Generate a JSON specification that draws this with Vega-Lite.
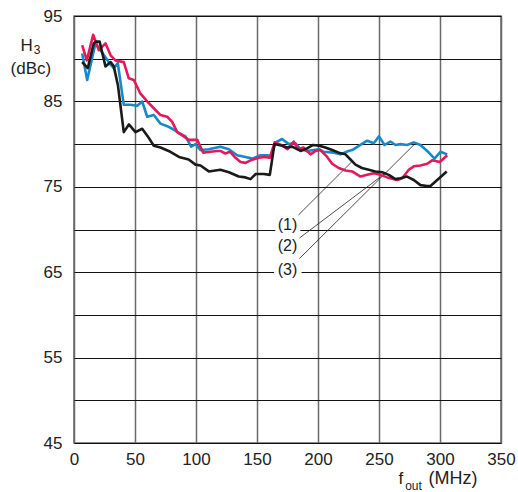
{
  "$schema": "https://vega.github.io/schema/vega-lite/v6.json",
  "autosize": {"type": "none"},
  "width": 427,
  "height": 427,
  "padding": {"left": 74, "top": 16, "right": 17, "bottom": 49},
  "background": "white",
  "config": {
    "font": "Liberation Sans",
    "view": {"stroke": "#666", "strokeWidth": 1.5},
    "axis": {"labelFont": "Liberation Sans", "titleFont": "Liberation Sans", "labelColor": "#222", "titleColor": "#222", "ticks": false, "domain": false, "titleFontWeight": "normal", "labelFlush": false, "labelOverlap": false}
  },
  "datasets": {
    "curves": [
      {"s": "1", "f": 6.7, "h": 89.6}, {"s": "1", "f": 11.3, "h": 88.9}, {"s": "1", "f": 16.2, "h": 91.8}, {"s": "1", "f": 18, "h": 92.0}, {"s": "1", "f": 21, "h": 92.0}, {"s": "1", "f": 25.8, "h": 89.1}, {"s": "1", "f": 30, "h": 89.6}, {"s": "1", "f": 32.6, "h": 89.1}, {"s": "1", "f": 36, "h": 86.9}, {"s": "1", "f": 40.8, "h": 81.4}, {"s": "1", "f": 45, "h": 82.3}, {"s": "1", "f": 50.4, "h": 81.4}, {"s": "1", "f": 55.9, "h": 81.8}, {"s": "1", "f": 60.5, "h": 80.9}, {"s": "1", "f": 65.4, "h": 79.8}, {"s": "1", "f": 70.9, "h": 79.6}, {"s": "1", "f": 79, "h": 79.1}, {"s": "1", "f": 86, "h": 78.5}, {"s": "1", "f": 94, "h": 78.2}, {"s": "1", "f": 99.6, "h": 77.6}, {"s": "1", "f": 103.7, "h": 77.5}, {"s": "1", "f": 110.5, "h": 76.8}, {"s": "1", "f": 120, "h": 77.0}, {"s": "1", "f": 127, "h": 76.7}, {"s": "1", "f": 135, "h": 76.2}, {"s": "1", "f": 140.6, "h": 76.1}, {"s": "1", "f": 144.7, "h": 75.9}, {"s": "1", "f": 149, "h": 76.5}, {"s": "1", "f": 155.6, "h": 76.5}, {"s": "1", "f": 160.5, "h": 76.4}, {"s": "1", "f": 164.3, "h": 80.0}, {"s": "1", "f": 170.6, "h": 79.8}, {"s": "1", "f": 174.7, "h": 79.6}, {"s": "1", "f": 178.8, "h": 79.7}, {"s": "1", "f": 185.7, "h": 79.2}, {"s": "1", "f": 191, "h": 79.5}, {"s": "1", "f": 196, "h": 79.9}, {"s": "1", "f": 201, "h": 79.8}, {"s": "1", "f": 206, "h": 79.6}, {"s": "1", "f": 211.6, "h": 79.3}, {"s": "1", "f": 217, "h": 79.0}, {"s": "1", "f": 222.5, "h": 78.8}, {"s": "1", "f": 226.6, "h": 78.2}, {"s": "1", "f": 230.7, "h": 77.6}, {"s": "1", "f": 236, "h": 77.2}, {"s": "1", "f": 241.6, "h": 77.0}, {"s": "1", "f": 247, "h": 76.8}, {"s": "1", "f": 252.6, "h": 76.7}, {"s": "1", "f": 258, "h": 76.4}, {"s": "1", "f": 263.5, "h": 75.9}, {"s": "1", "f": 267.6, "h": 76.0}, {"s": "1", "f": 273, "h": 76.2}, {"s": "1", "f": 278.5, "h": 75.8}, {"s": "1", "f": 284, "h": 75.2}, {"s": "1", "f": 289.5, "h": 75.1}, {"s": "1", "f": 292.2, "h": 75.1}, {"s": "1", "f": 297.7, "h": 75.8}, {"s": "1", "f": 305.5, "h": 76.8},

      {"s": "2", "f": 6.7, "h": 91.6}, {"s": "2", "f": 10.5, "h": 89.8}, {"s": "2", "f": 15.7, "h": 92.8}, {"s": "2", "f": 20.3, "h": 91.0}, {"s": "2", "f": 25.8, "h": 91.8}, {"s": "2", "f": 30, "h": 90.4}, {"s": "2", "f": 34, "h": 89.8}, {"s": "2", "f": 40.8, "h": 89.6}, {"s": "2", "f": 44.9, "h": 87.7}, {"s": "2", "f": 49, "h": 87.5}, {"s": "2", "f": 54.5, "h": 85.9}, {"s": "2", "f": 60, "h": 85.0}, {"s": "2", "f": 65.4, "h": 84.2}, {"s": "2", "f": 70.9, "h": 83.4}, {"s": "2", "f": 76.4, "h": 83.2}, {"s": "2", "f": 80.5, "h": 82.6}, {"s": "2", "f": 84.6, "h": 81.4}, {"s": "2", "f": 90, "h": 80.9}, {"s": "2", "f": 94, "h": 80.5}, {"s": "2", "f": 101, "h": 80.5}, {"s": "2", "f": 105.9, "h": 79.0}, {"s": "2", "f": 111.9, "h": 79.1}, {"s": "2", "f": 117.4, "h": 79.2}, {"s": "2", "f": 120, "h": 79.2}, {"s": "2", "f": 124, "h": 78.9}, {"s": "2", "f": 128, "h": 79.1}, {"s": "2", "f": 132.4, "h": 78.4}, {"s": "2", "f": 136.5, "h": 77.9}, {"s": "2", "f": 140.6, "h": 77.8}, {"s": "2", "f": 144.7, "h": 78.1}, {"s": "2", "f": 151.5, "h": 78.4}, {"s": "2", "f": 155.6, "h": 78.5}, {"s": "2", "f": 160.5, "h": 78.4}, {"s": "2", "f": 164.5, "h": 80.2}, {"s": "2", "f": 170, "h": 79.9}, {"s": "2", "f": 175, "h": 79.4}, {"s": "2", "f": 180, "h": 80.3}, {"s": "2", "f": 184, "h": 79.4}, {"s": "2", "f": 188, "h": 79.6}, {"s": "2", "f": 193.9, "h": 78.8}, {"s": "2", "f": 198, "h": 79.2}, {"s": "2", "f": 202, "h": 79.3}, {"s": "2", "f": 207.5, "h": 78.5}, {"s": "2", "f": 211.6, "h": 77.7}, {"s": "2", "f": 217, "h": 77.2}, {"s": "2", "f": 222.5, "h": 76.9}, {"s": "2", "f": 228, "h": 76.8}, {"s": "2", "f": 234.8, "h": 76.2}, {"s": "2", "f": 240.3, "h": 76.4}, {"s": "2", "f": 245.7, "h": 76.6}, {"s": "2", "f": 251.2, "h": 76.4}, {"s": "2", "f": 256.7, "h": 76.1}, {"s": "2", "f": 265, "h": 75.8}, {"s": "2", "f": 269, "h": 76.0}, {"s": "2", "f": 274.4, "h": 77.0}, {"s": "2", "f": 278.5, "h": 77.4}, {"s": "2", "f": 284, "h": 77.5}, {"s": "2", "f": 289.5, "h": 77.7}, {"s": "2", "f": 293.6, "h": 78.1}, {"s": "2", "f": 299.9, "h": 77.9}, {"s": "2", "f": 305.9, "h": 78.7},

      {"s": "3", "f": 6.7, "h": 90.6}, {"s": "3", "f": 10.8, "h": 87.5}, {"s": "3", "f": 17.6, "h": 91.8}, {"s": "3", "f": 21.7, "h": 91.0}, {"s": "3", "f": 26.6, "h": 90.0}, {"s": "3", "f": 30, "h": 89.3}, {"s": "3", "f": 32.6, "h": 88.9}, {"s": "3", "f": 35.9, "h": 89.5}, {"s": "3", "f": 40.8, "h": 84.6}, {"s": "3", "f": 46.3, "h": 84.6}, {"s": "3", "f": 51.8, "h": 84.5}, {"s": "3", "f": 55.9, "h": 85.0}, {"s": "3", "f": 60, "h": 83.2}, {"s": "3", "f": 65.4, "h": 83.4}, {"s": "3", "f": 70.9, "h": 82.4}, {"s": "3", "f": 76.4, "h": 82.1}, {"s": "3", "f": 80.5, "h": 81.8}, {"s": "3", "f": 85.9, "h": 81.3}, {"s": "3", "f": 91.4, "h": 80.9}, {"s": "3", "f": 96, "h": 79.7}, {"s": "3", "f": 99.6, "h": 80.0}, {"s": "3", "f": 103.7, "h": 79.3}, {"s": "3", "f": 110.5, "h": 79.4}, {"s": "3", "f": 120, "h": 79.7}, {"s": "3", "f": 126.9, "h": 79.4}, {"s": "3", "f": 133.8, "h": 78.7}, {"s": "3", "f": 140.6, "h": 78.5}, {"s": "3", "f": 146, "h": 78.3}, {"s": "3", "f": 152.9, "h": 78.7}, {"s": "3", "f": 158.3, "h": 78.7}, {"s": "3", "f": 161.6, "h": 78.6}, {"s": "3", "f": 165.2, "h": 80.2}, {"s": "3", "f": 170.6, "h": 80.6}, {"s": "3", "f": 176, "h": 80.0}, {"s": "3", "f": 181.6, "h": 80.1}, {"s": "3", "f": 185.7, "h": 79.4}, {"s": "3", "f": 191, "h": 79.2}, {"s": "3", "f": 200.7, "h": 79.4}, {"s": "3", "f": 204.7, "h": 79.1}, {"s": "3", "f": 213, "h": 79.0}, {"s": "3", "f": 218.4, "h": 78.8}, {"s": "3", "f": 225, "h": 79.2}, {"s": "3", "f": 228, "h": 79.3}, {"s": "3", "f": 234.8, "h": 79.9}, {"s": "3", "f": 240.3, "h": 80.4}, {"s": "3", "f": 245.7, "h": 80.1}, {"s": "3", "f": 250, "h": 80.9}, {"s": "3", "f": 254.5, "h": 79.9}, {"s": "3", "f": 259.4, "h": 80.3}, {"s": "3", "f": 263.5, "h": 79.9}, {"s": "3", "f": 267.6, "h": 80.0}, {"s": "3", "f": 273, "h": 79.9}, {"s": "3", "f": 278.5, "h": 80.2}, {"s": "3", "f": 284, "h": 79.9}, {"s": "3", "f": 289.5, "h": 79.2}, {"s": "3", "f": 295.5, "h": 78.3}, {"s": "3", "f": 300.4, "h": 79.1}, {"s": "3", "f": 305.9, "h": 78.8}
    ],
    "leaders": [
      {"label": "(1)", "lx": 175, "ly": 70.5, "x1": 184, "y1": 71.7, "x2": 227.5, "y2": 77.9},
      {"label": "(2)", "lx": 175, "ly": 68.1, "x1": 184.8, "y1": 69.0, "x2": 255.3, "y2": 76.6},
      {"label": "(3)", "lx": 175, "ly": 65.3, "x1": 184.8, "y1": 66.6, "x2": 279.9, "y2": 80.1}
    ],
    "gaps": [
      {"a": 165, "b": 185.5, "lo": 69.6, "hi": 70.4},
      {"a": 164, "b": 186.5, "lo": 64.6, "hi": 65.4}
    ],
    "titles": [
      {"t": "f", "xf": 268.0, "yv": 40.2, "size": 17},
      {"t": "out", "xf": 278.3, "yv": 39.5, "size": 12},
      {"t": "(MHz)", "xf": 310.7, "yv": 40.2, "size": 18},
      {"t": "H", "xf": -38.9, "yv": 90.95, "size": 17},
      {"t": "3", "xf": -30.3, "yv": 90.5, "size": 12},
      {"t": "(dBc)", "xf": -35.3, "yv": 88.25, "size": 17}
    ]
  },
  "layer": [
    {
      "data": {"name": "gaps"},
      "mark": {"type": "rect", "color": "white"},
      "encoding": {
        "x": {"field": "a", "type": "quantitative", "scale": {"domain": [0, 350], "nice": false, "zero": false},
          "axis": {"values": [0, 50, 100, 150, 200, 250, 300, 350], "title": null, "labelFontSize": 17, "labelPadding": 8, "gridColor": "#6a6a6a", "gridWidth": 1.5, "gridOpacity": 1}},
        "x2": {"field": "b"},
        "y": {"field": "lo", "type": "quantitative", "scale": {"domain": [45, 95], "nice": false, "zero": false},
          "axis": {"values": [45, 50, 55, 60, 65, 70, 75, 80, 85, 90, 95], "labelExpr": "datum.value % 10 == 5 ? datum.label : ''", "labelFontSize": 17, "labelPadding": 12, "gridColor": "#111", "gridWidth": 1, "gridOpacity": 1, "title": null}},
        "y2": {"field": "hi"}
      }
    },
    {
      "data": {"name": "leaders"},
      "mark": {"type": "rule", "color": "#222", "strokeWidth": 0.8},
      "encoding": {
        "x": {"field": "x1", "type": "quantitative"},
        "y": {"field": "y1", "type": "quantitative"},
        "x2": {"field": "x2"},
        "y2": {"field": "y2"}
      }
    },
    {
      "data": {"name": "leaders"},
      "mark": {"type": "text", "fontSize": 16, "align": "center", "baseline": "middle", "color": "#222"},
      "encoding": {
        "x": {"field": "lx", "type": "quantitative"},
        "y": {"field": "ly", "type": "quantitative"},
        "text": {"field": "label"}
      }
    },
    {
      "data": {"name": "curves"},
      "transform": [{"filter": "datum.s == '3'"}],
      "mark": {"type": "line", "color": "#1689c9", "strokeWidth": 2.6, "strokeJoin": "round"},
      "encoding": {"x": {"field": "f", "type": "quantitative"}, "y": {"field": "h", "type": "quantitative"}}
    },
    {
      "data": {"name": "curves"},
      "transform": [{"filter": "datum.s == '2'"}],
      "mark": {"type": "line", "color": "#e6185a", "strokeWidth": 2.6, "strokeJoin": "round"},
      "encoding": {"x": {"field": "f", "type": "quantitative"}, "y": {"field": "h", "type": "quantitative"}}
    },
    {
      "data": {"name": "curves"},
      "transform": [{"filter": "datum.s == '1'"}],
      "mark": {"type": "line", "color": "#1a1a1a", "strokeWidth": 2.6, "strokeJoin": "round"},
      "encoding": {"x": {"field": "f", "type": "quantitative"}, "y": {"field": "h", "type": "quantitative"}}
    },
    {
      "data": {"name": "titles"},
      "mark": {"type": "text", "baseline": "alphabetic", "align": "center", "color": "#222"},
      "encoding": {
        "x": {"field": "xf", "type": "quantitative"},
        "y": {"field": "yv", "type": "quantitative"},
        "text": {"field": "t"},
        "size": {"field": "size", "type": "quantitative", "scale": null}
      }
    }
  ]
}
